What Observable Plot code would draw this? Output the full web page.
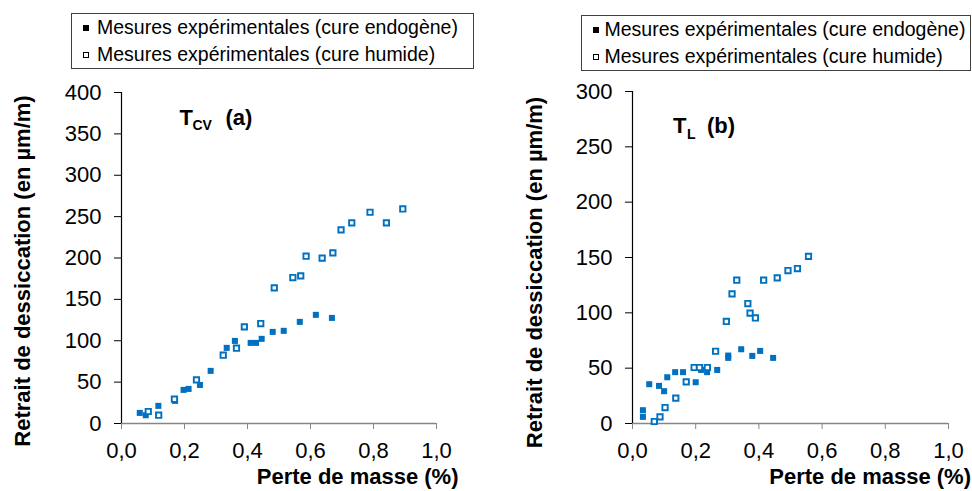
<!DOCTYPE html>
<html>
<head>
<meta charset="utf-8">
<script src="https://cdn.jsdelivr.net/npm/d3@7"></script>
<script src="https://cdn.jsdelivr.net/npm/@observablehq/plot@0.6"></script>
<style>
  html, body { margin: 0; padding: 0; background: #fff; }
  #wrap { position: relative; width: 972px; height: 491px; overflow: hidden;
          font-family: "Liberation Sans", Arial, sans-serif; background: #fff; }
  .panel { position: absolute; top: 0; width: 486px; height: 491px; }
  .legend { position: absolute; border: 1px solid #404040; background: #fff;
            font-size: 19.5px; line-height: 27px; color: #000; white-space: nowrap; box-sizing: content-box; }
  .legend .row { display: flex; align-items: center; height: 27px; }
  .legend .mk { display: inline-block; flex: 0 0 6px; width: 6px; height: 6px; box-sizing: border-box; margin-top: 1px; }
  .legend .mk.filled { background: #000; }
  .legend .mk.open { background: #fff; border: 1px solid #000; }
  .legend .lab { flex: 0 0 auto; }
</style>
</head>
<body>
<div id="wrap">
  <div class="panel" id="panelA" style="left:0px"></div>
  <div class="panel" id="panelB" style="left:486px"></div>
</div>
<script>
// ---------- DATA ----------
const legendLabels = ["Mesures expérimentales (cure endogène)", "Mesures expérimentales (cure humide)"];
const xLabel = "Perte de masse (%)";
const yLabel = "Retrait de dessiccation (en µm/m)";

const xTicks = [0, 0.2, 0.4, 0.6, 0.8, 1.0];
const yTicksA = [0, 50, 100, 150, 200, 250, 300, 350, 400];
const yTicksB = [0, 50, 100, 150, 200, 250, 300];

// Panel (a) : T_CV
const endoA_mass   = [0.058, 0.077, 0.117, 0.170, 0.197, 0.213, 0.249, 0.283, 0.334, 0.360, 0.410, 0.427, 0.445, 0.480, 0.515, 0.566, 0.617, 0.668];
const endoA_shrink = [12.8, 10, 21.3, 27.3, 40.6, 41.8, 46.6, 63.6, 91.4, 99.8, 97.4, 97.4, 102.3, 110.7, 112, 122.8, 131.3, 127.6];
const humA_mass    = [0.085, 0.118, 0.168, 0.238, 0.323, 0.365, 0.390, 0.442, 0.485, 0.544, 0.569, 0.586, 0.637, 0.671, 0.697, 0.731, 0.789, 0.841, 0.893];
const humA_shrink  = [14.5, 10, 29.4, 52.7, 82.5, 91, 116.8, 120.8, 163.9, 176.4, 178.4, 202.2, 199.8, 206.2, 234, 242.4, 255.3, 242.4, 259.3];

// Panel (b) : T_L
const endoB_mass   = [0.033, 0.033, 0.053, 0.084, 0.100, 0.110, 0.135, 0.160, 0.200, 0.217, 0.236, 0.268, 0.303, 0.303, 0.344, 0.379, 0.404, 0.445];
const endoB_shrink = [12, 6, 35.5, 34, 29.2, 41.8, 46.4, 46.4, 37.3, 48.4, 46.4, 48.4, 61.4, 59.3, 67.1, 61.1, 65.6, 59.3];
const humB_mass    = [0.069, 0.087, 0.103, 0.137, 0.170, 0.195, 0.212, 0.237, 0.263, 0.297, 0.315, 0.330, 0.365, 0.372, 0.389, 0.415, 0.458, 0.492, 0.522, 0.557];
const humB_shrink  = [1.8, 6, 14.4, 22.9, 37.6, 50.6, 50.6, 50.6, 65.3, 92.2, 117.1, 129.5, 108.4, 99.7, 95.4, 129.5, 131.6, 138.2, 140, 151];

// ---------- BUILD ----------
const zipPts = (xs, ys) => xs.map((m, i) => ({m, r: ys[i]}));
const BLUE = "#0070C0";
const FONT = "Liberation Sans, Arial, sans-serif";
const fmtX = d => d.toFixed(1).replace(".", ",");

function panel(opts) {
  const {endo, hum, yDomain, yTicks, mL, mR, mT, mB, yTitleDx, yTitleDy, xTitleDx, annot} = opts;
  return Plot.plot({
    width: 486, height: 491,
    marginLeft: mL, marginRight: mR, marginTop: mT, marginBottom: mB,
    x: {domain: [0, 1]},
    y: {domain: yDomain},
    style: {fontFamily: FONT, fontSize: "22px", color: "#000", background: "transparent", overflow: "visible"},
    marks: [
      Plot.axisY({ticks: yTicks, tickSize: 7, tickPadding: 13, label: null, stroke: "#000", fill: "#000", fontSize: 22, tickFormat: d => String(d)}),
      Plot.axisX({ticks: xTicks, tickSize: 6, tickPadding: 13, label: null, stroke: "#868686", fill: "#000", fontSize: 22, tickFormat: fmtX}),
      Plot.ruleY([0], {stroke: "#868686", strokeWidth: 1.3}),
      Plot.ruleX([0], {stroke: "#000", strokeWidth: 1.2}),
      Plot.dot(endo, {x: "m", y: "r", symbol: "square", r: 3.4, fill: BLUE, stroke: "none"}),
      Plot.dot(hum, {x: "m", y: "r", symbol: "square", r: 3.0, fill: "#fff", stroke: BLUE, strokeWidth: 1.9}),
      Plot.text([yLabel], {frameAnchor: "left", rotate: -90, dx: yTitleDx, dy: yTitleDy, textAnchor: "middle", lineAnchor: "middle",
                           fontSize: 22, fontWeight: "bold", fill: "#000"}),
      Plot.text([xLabel], {frameAnchor: "bottom-right", textAnchor: "end", lineAnchor: "middle", dx: xTitleDx, dy: 53,
                           fontSize: 22, fontWeight: "bold", fill: "#000"}),
      Plot.text([annot.main], {frameAnchor: "top-left", textAnchor: "start", lineAnchor: "top", dx: annot.tx, dy: annot.ty,
                               fontSize: 22, fontWeight: "bold", fill: "#000"}),
      Plot.text([annot.sub], {frameAnchor: "top-left", textAnchor: "start", lineAnchor: "top", dx: annot.sx, dy: annot.sy,
                              fontSize: 14, fontWeight: "bold", fill: "#000"}),
      Plot.text([annot.tag], {frameAnchor: "top-left", textAnchor: "start", lineAnchor: "top", dx: annot.px, dy: annot.ty,
                              fontSize: 22, fontWeight: "bold", fill: "#000"})
    ]
  });
}

const plotA = panel({
  endo: zipPts(endoA_mass, endoA_shrink), hum: zipPts(humA_mass, humA_shrink),
  yDomain: [0, 400], yTicks: yTicksA,
  mL: 121, mR: 50, mT: 92, mB: 68,
  yTitleDx: -99, yTitleDy: 13, xTitleDx: 22,
  annot: {main: "T", sub: "CV", tag: "(a)", tx: 58, ty: 16.5, sx: 71, sy: 27.5, px: 104}
});
const plotB = panel({
  endo: zipPts(endoB_mass, endoB_shrink), hum: zipPts(humB_mass, humB_shrink),
  yDomain: [0, 300], yTicks: yTicksB,
  mL: 146, mR: 24, mT: 91, mB: 68,
  yTitleDx: -98, yTitleDy: 15, xTitleDx: 22.5,
  annot: {main: "T", sub: "L", tag: "(b)", tx: 40.5, ty: 25.5, sx: 54.5, sy: 38, px: 74.5}
});
document.getElementById("panelA").appendChild(plotA);
document.getElementById("panelB").appendChild(plotB);

// ---------- LEGENDS ----------
function legend(left, top, width, gap) {
  const div = document.createElement("div");
  div.className = "legend";
  div.style.left = left + "px";
  div.style.top = top + "px";
  div.style.width = width + "px";
  div.style.paddingLeft = "11px";
  legendLabels.forEach((lab, i) => {
    const row = document.createElement("div");
    row.className = "row";
    const mk = document.createElement("span");
    mk.className = "mk " + (i === 0 ? "filled" : "open");
    mk.style.marginRight = gap + "px";
    const t = document.createElement("span");
    t.className = "lab";
    t.textContent = lab;
    row.appendChild(mk);
    row.appendChild(t);
    div.appendChild(row);
  });
  document.getElementById("wrap").appendChild(div);
}
legend(71, 13, 390, 8);
legend(581, 15, 377, 5.5);
</script>
</body>
</html>
